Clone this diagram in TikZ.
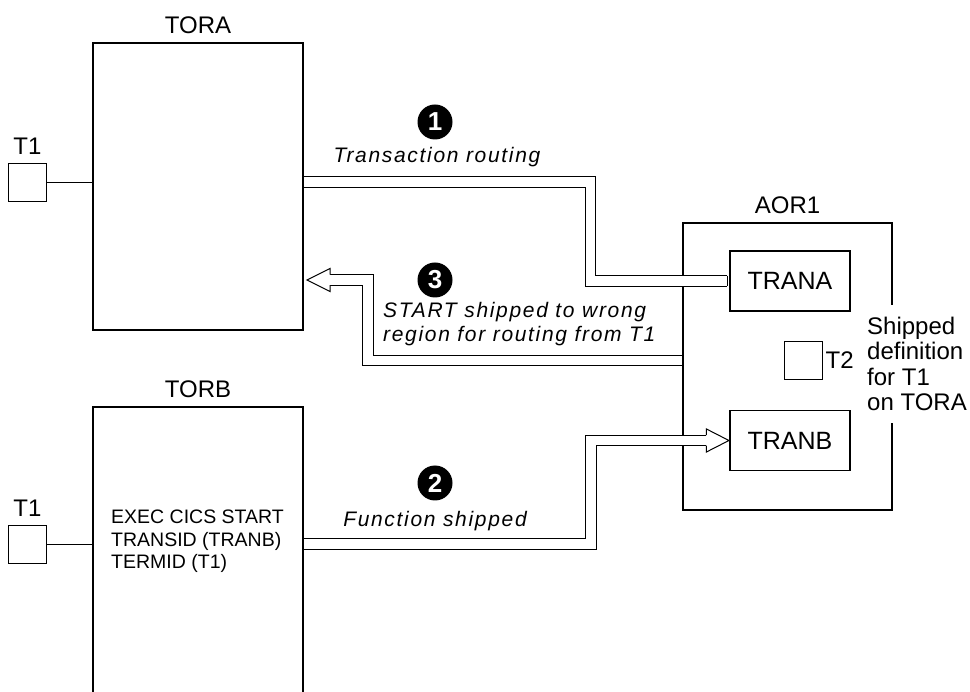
\documentclass[tikz,border=0pt]{standalone}
\usepackage{fontspec}
\setmainfont{Liberation Sans}
\newfontfamily\notefont[LetterSpace=8]{Liberation Sans}
\usetikzlibrary{
    calc,
    positioning
}
\tikzset{
    % Region or transaction:
    box/.style = {
        draw,
        rectangle,
        line width = 1.1pt,
        inner sep = 0pt
    },
    trans/.style = {
        box,
        minimum width = 120pt,
        minimum height = 60pt,
        font = \fontsize{25}{25}\selectfont
    },
    % Terminal:
    term/.style = {
        draw,
        line width = 0.9pt,
        minimum size = 38pt,
        inner sep = 0pt
    },
    lbl/.style = {
        font = \fontsize{24}{25}\selectfont,
        inner sep = 2pt
    },
    % Italic connector text:
    note/.style = {
        font = \notefont\itshape\fontsize{21}{23.7}\selectfont,
        inner sep = 3pt
    },
    % Numbered marker:
    badge/.style = {
        circle,
        fill = black,
        text = white,
        minimum size = 35pt,
        inner sep = 0pt,
        font = \bfseries\fontsize{26}{26}\selectfont
    },
    pipe/.style = {
        draw,
        line width = 1pt,
        double = white,
        double distance = 9.5pt,
        line join = miter
    },
    head/.style = {
        draw,
        fill = white,
        line width = 1pt,
        line join = miter
    }
}

\begin{document}
\begin{tikzpicture}[x=1pt, y=-1pt]
    \clip (0, 0) rectangle (970, 692);
    % regions
    \node [box, minimum width=210pt, minimum height=287pt] (TORA) at (198, 186.5) {};
    \node [box, minimum width=210pt, minimum height=330pt] (TORB) at (198, 572) {};
    \node [box, minimum width=209pt, minimum height=287pt] (AOR1) at (787.5, 366.5) {};
    \node [lbl, above=7pt of TORA] {TORA};
    \node [lbl, above=7pt of TORB] {TORB};
    \node [lbl, above=7pt of AOR1] {AOR1};
    \node [anchor=west, align=left, inner sep=3pt, font=\fontsize{19.5}{22.5}\selectfont]
        (cmd) at (108, 541.5) {EXEC CICS START\\TRANSID (TRANB)\\TERMID (T1)};
    % terminals
    \node [term] (T1a) at (27.5, 182) {};
    \node [term] (T1b) at (27.5, 544) {};
    \node [lbl, above=6pt of T1a] {T1};
    \node [lbl, above=6pt of T1b] {T1};
    \draw [line width=0.8pt] (T1a.east) -- (T1a -| TORA.west);
    \draw [line width=0.8pt] (T1b.east) -- (T1b -| TORB.west);
    % inside AOR1
    \node [trans] (TRANA) at (790, 281) {TRANA};
    \node [trans] (TRANB) at (790, 440.5) {TRANB};
    \node [term] (T2) at (803, 360.5) {};
    \node [lbl, right=1pt of T2] {T2};
    \node [lbl, fill=white, anchor=west, align=left, inner xsep=3pt, inner ysep=12pt,
        font=\fontsize{24}{25.3}\selectfont]
        (shipdef) at (864, 364) {Shipped\\definition\\for T1\\on TORA};
    % 1: transaction routing
    \coordinate (a1end) at ([xshift=-2pt]TRANA.west);
    \draw [pipe, shorten <=.6pt] (T1a -| TORA.east) -| (590.5, 281) -- (a1end);
    \draw [line width=1pt] (a1end) ++(0, -5.25) -- ++(0, 10.5);
    % 2: function shipped
    \coordinate (a2base) at ([xshift=-23pt]TRANB.west);
    \coordinate (a2tip) at ([xshift=-.5pt]TRANB.west);
    \draw [pipe, shorten <=.6pt] (T1b -| TORB.east) -| (591, 440.5) -- (a2base);
    \path [head] (a2base) ++(0, -5.25) -- ++(0, -6.25) -- (a2tip)
        -- ($(a2base)+(0, 11.5)$) -- ++(0, -6.25);
    % 3: START shipped back
    \coordinate (a3tip) at (307, 280);
    \coordinate (a3base) at (330, 280);
    \draw [pipe, shorten <=.6pt] ([yshift=6pt]AOR1.west) -| (368, 280) -- (a3base);
    \path [head] (a3base) ++(0, -5.25) -- ++(0, -6.25) -- (a3tip)
        -- ($(a3base)+(0, 11.5)$) -- ++(0, -6.25);
    % markers and texts
    \node [badge] (n1) at (435, 122) {1};
    \node [badge] (n2) at (435, 483) {2};
    \node [badge] (n3) at (435, 280) {3};
    \node [note, anchor=base] at (437, 163) {Transaction routing};
    \node [note, anchor=base] at (435, 526) {Function shipped};
    \node [note, anchor=west, align=left] at (380, 324.4) {START shipped to wrong\\region for routing from T1};
\end{tikzpicture}
\end{document}
